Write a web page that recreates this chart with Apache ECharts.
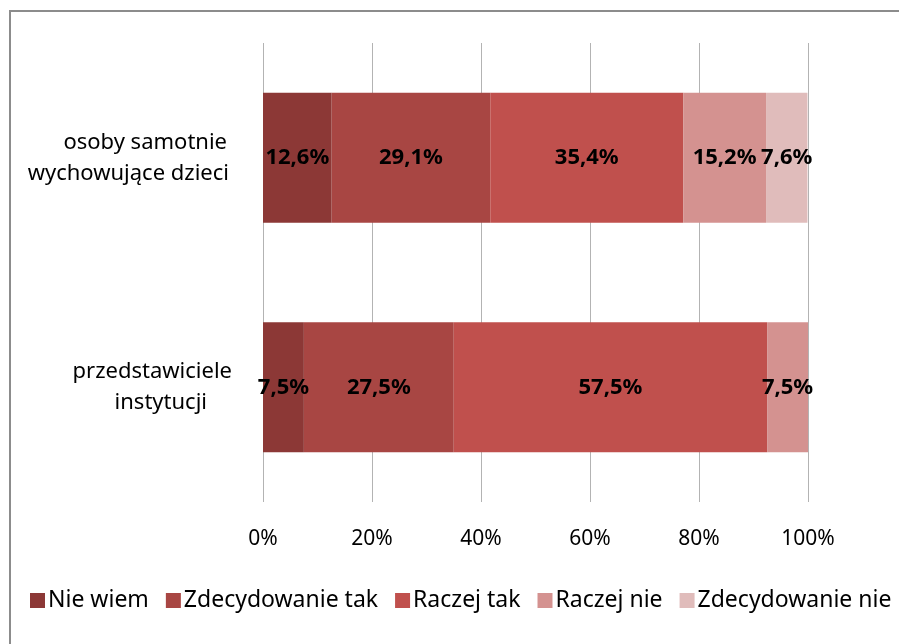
<!DOCTYPE html>
<html>
<head>
<meta charset="utf-8">
<script src="https://cdn.jsdelivr.net/npm/echarts@6/dist/echarts.min.js"></script>
<style>
  html, body { margin: 0; padding: 0; background: #fff; }
  #chart { width: 899px; height: 644px; }
</style>
</head>
<body>
<div id="chart"></div>
<script>
const categories = ['osoby samotnie\nwychowujące dzieci', 'przedstawiciele\ninstytucji']
const seriesNames = ['Nie wiem', 'Zdecydowanie tak', 'Raczej tak', 'Raczej nie', 'Zdecydowanie nie']
const nieWiem = [12.6, 7.5]
const zdecydowanieTak = [29.1, 27.5]
const raczejTak = [35.4, 57.5]
const raczejNie = [15.2, 7.5]
const zdecydowanieNie = [7.6, 0]
const xTicks = [0, 20, 40, 60, 80, 100]

const values = [nieWiem, zdecydowanieTak, raczejTak, raczejNie, zdecydowanieNie]
const colors = ['#8C3836', '#A84643', '#C0504D', '#D49290', '#E0BCBB']
const font = 'Noto Sans'
// right padding of each label line, so the lines sit like in the original
const linePad = [[10, 8], [5, 30]]

const chart = echarts.init(document.getElementById('chart'))

const series = seriesNames.map((name, i) => ({
  name: name,
  type: 'bar',
  stack: 'total',
  barWidth: 130,
  data: values[i],
  itemStyle: { color: colors[i] },
  label: {
    show: true,
    position: 'inside',
    color: '#000',
    fontFamily: font,
    fontWeight: 'bold',
    fontSize: 22,
    formatter: p => p.value > 0 ? p.value.toFixed(1).replace('.', ',') + '%' : ''
  }
}))

const rich = {}
linePad.forEach((row, c) => {
  row.forEach((pr, l) => {
    rich['c' + c + 'l' + l] = { align: 'right', padding: [0, pr, 0, 0], fontSize: 22, fontFamily: font, color: '#000', lineHeight: 31 }
  })
})

const option = {
  animation: false,
  backgroundColor: '#fff',
  textStyle: { fontFamily: font },
  graphic: [{
    type: 'rect',
    shape: { x: 10, y: 11, width: 1000, height: 1000 },
    style: { fill: 'none', stroke: '#8c8c8c', lineWidth: 2 },
    silent: true
  }],
  grid: { left: 263, right: 91, top: 43, bottom: 142 },
  legend: {
    data: seriesNames,
    left: 25,
    top: 584,
    itemWidth: 15,
    itemHeight: 15,
    itemGap: 17,
    icon: 'rect',
    textStyle: { color: '#000', fontSize: 23, fontFamily: font, padding: [0, 0, 0, -2] }
  },
  xAxis: {
    type: 'value',
    min: 0,
    max: 100,
    interval: 20,
    axisLine: { show: false },
    axisTick: { show: false },
    splitLine: { lineStyle: { color: '#b3b3b3', width: 1 } },
    axisLabel: {
      margin: 27,
      color: '#000',
      fontSize: 21,
      fontFamily: font,
      customValues: xTicks,
      formatter: v => v + '%'
    }
  },
  yAxis: {
    type: 'category',
    inverse: true,
    data: categories,
    axisLine: { show: false },
    axisTick: { show: false },
    axisLabel: {
      margin: 26,
      align: 'right',
      color: '#000',
      fontSize: 22,
      fontFamily: font,
      lineHeight: 31,
      formatter: (v, idx) => v.split('\n').map((s, l) => '{c' + idx + 'l' + l + '|' + s + '}').join('\n'),
      rich: rich
    }
  },
  series: series
}

chart.setOption(option)
</script>
</body>
</html>
